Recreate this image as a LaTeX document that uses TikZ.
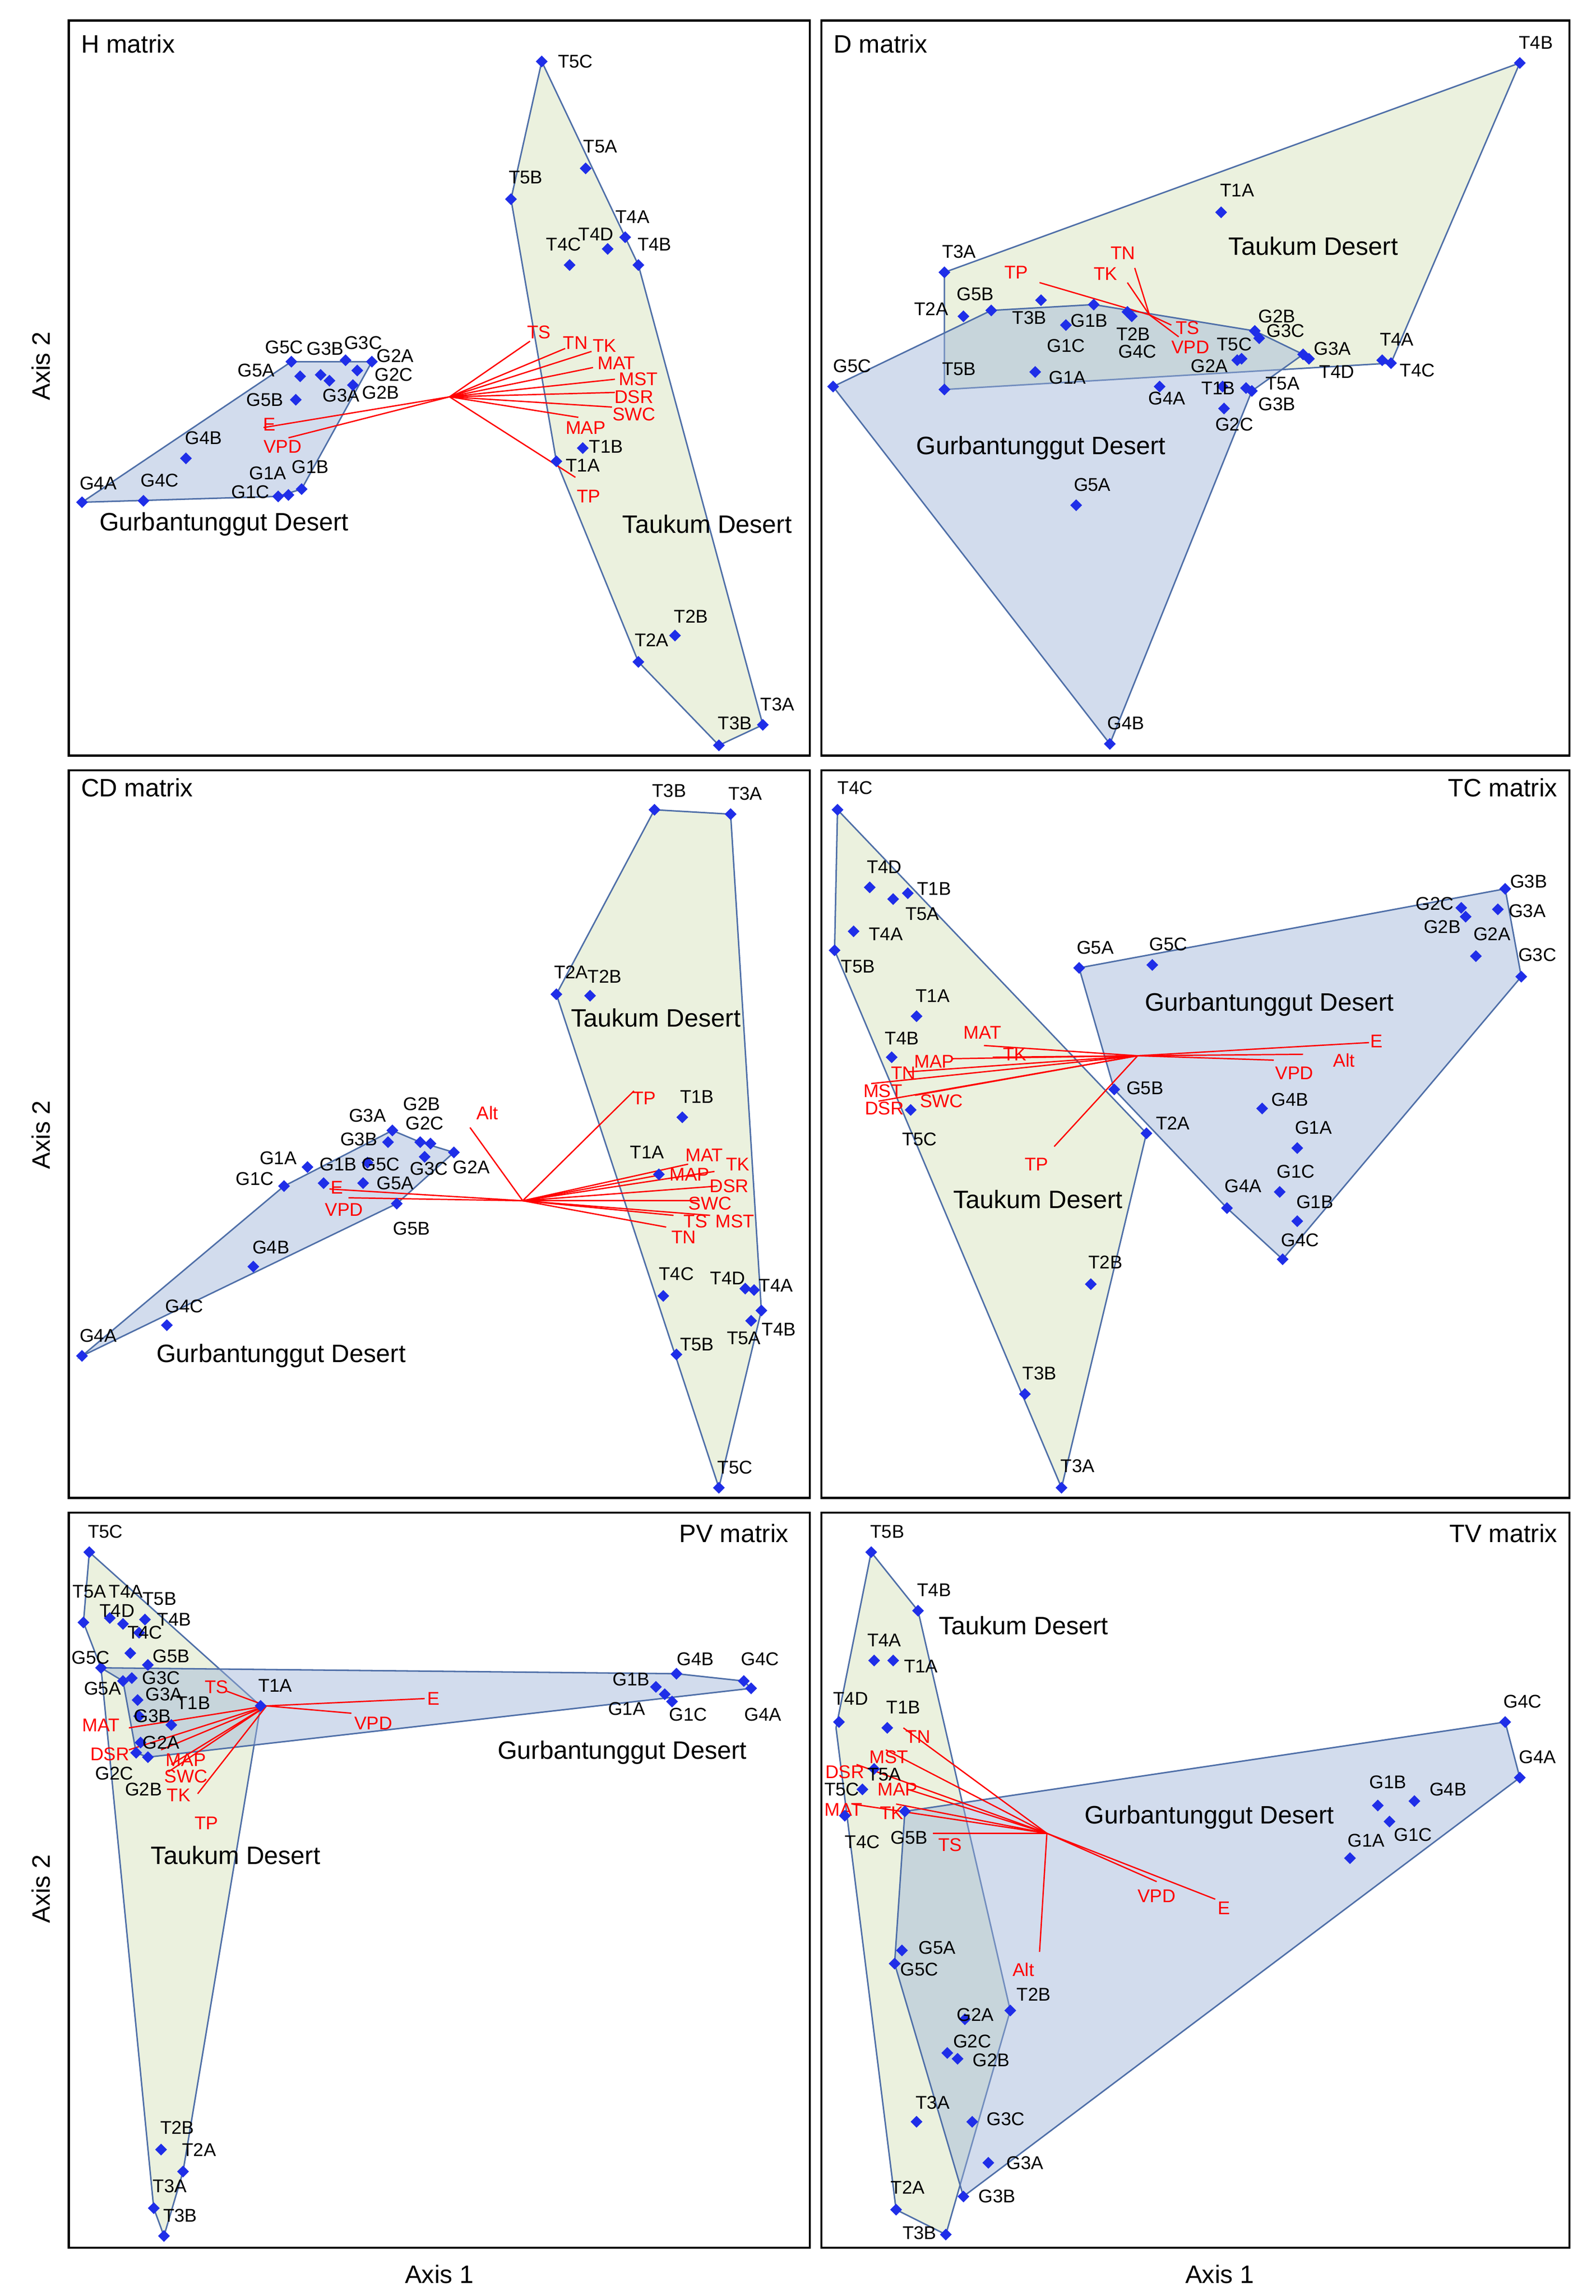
\documentclass[tikz,border=0pt]{standalone}
\usepackage{fontspec}
\setmainfont{Liberation Sans}
\usetikzlibrary{shapes.geometric}
\definecolor{pblue}{HTML}{1F2EE8}
\definecolor{gfill}{HTML}{EBF1DE}
\definecolor{bfill}{HTML}{9DB3D9}
\definecolor{hull}{HTML}{4F6FA8}
\tikzset{
 pt/.style={diamond,fill=pblue,inner sep=0pt,minimum size=4.2pt},
 lb/.style={font=\fontsize{6.3}{7}\selectfont,inner sep=0pt},
 rl/.style={font=\fontsize{6.3}{7}\selectfont,inner sep=0pt,text=red},
 vec/.style={red,line width=0.45pt},
 gh/.style={fill=gfill,draw=hull,line width=0.5pt},
 bh/.style={fill=bfill,fill opacity=0.45,draw=hull,draw opacity=1,line width=0.5pt},
 frame/.style={draw=black,line width=0.7pt},
 big/.style={font=\fontsize{8.6}{10}\selectfont,inner sep=0pt},
}
\def\pp(#1,#2)(#3,#4)#5;{\node[pt] at (#1,#2) {}; \node[lb] at (#3,#4) {#5};}
\def\rv(#1,#2)(#3,#4)(#5,#6)#7;{\draw[vec] (#1,#2) -- (#3,#4); \node[rl] at (#5,#6) {#7};}
\begin{document}
\begin{tikzpicture}[x=0.5pt,y=-0.5pt]
\useasboundingbox (0,0) rectangle (1090,1568);
\fill[white] (0,0) rectangle (1090,1568);
% frames
\draw[frame] (47,14) rectangle (553,516);
\draw[frame] (561,14) rectangle (1072,516);
\draw[frame] (47,526) rectangle (553,1023);
\draw[frame] (561,526) rectangle (1072,1023);
\draw[frame] (47,1033) rectangle (553,1535);
\draw[frame] (561,1033) rectangle (1072,1535);
\node[big,rotate=90] at (28,250) {Axis 2};
\node[big,rotate=90] at (28,775) {Axis 2};
\node[big,rotate=90] at (28,1290) {Axis 2};
\node[big] at (300,1553) {Axis 1};
\node[big] at (833,1553) {Axis 1};

% ================= H matrix
\node[big,anchor=west] at (55,30) {H matrix};
\draw[gh] (370,42) -- (436,181) -- (521,495) -- (491,509) -- (436,452) -- (380,315) -- (349,136) -- cycle;
\draw[bh] (56,343) -- (199,247) -- (254,247) -- (206,334) -- (190,339) -- cycle;
\foreach \x/\y in {362/233,386/238,404/240,405/251,420/259,420/268,418/278,395/285,393/326,180/292,197/299} \draw[vec] (307,271) -- (\x,\y);
\node[rl] at (368,227) {TS}; \node[rl] at (393,234) {TN}; \node[rl] at (413,236) {TK};
\node[rl] at (421,248) {MAT}; \node[rl] at (436,259) {MST}; \node[rl] at (433,271) {DSR};
\node[rl] at (433,283) {SWC}; \node[rl] at (400,292) {MAP}; \node[rl] at (402,339) {TP};
\node[rl] at (184,290) {E}; \node[rl] at (193,305) {VPD};
\pp(370,42)(393,42)T5C; \pp(400,115)(410,100)T5A; \pp(349,136)(359,121)T5B;
\pp(427,162)(432,148)T4A; \pp(415,170)(407,160)T4D; \pp(389,181)(385,167)T4C;
\pp(436,181)(447,167)T4B; \pp(398,306)(414,305)T1B; \pp(380,315)(398,318)T1A;
\pp(461,434)(472,421)T2B; \pp(436,452)(445,437)T2A; \pp(521,495)(531,481)T3A; \pp(491,509)(502,494)T3B;
\pp(56,343)(67,330)G4A; \pp(98,342)(109,328)G4C; \pp(127,313)(139,299)G4B;
\pp(190,339)(171,336)G1C; \pp(197,338)(183,323)G1A; \pp(206,334)(212,319)G1B;
\pp(202,273)(181,273)G5B; \pp(205,257)(175,253)G5A; \pp(199,247)(194,237)G5C;
\pp(219,256)(222,238)G3B; \pp(236,246)(248,234)G3C; \pp(254,247)(270,243)G2A;
\pp(244,253)(269,256)G2C; \pp(225,260)(233,270)G3A; \pp(241,263)(260,268)G2B;
\node[big] at (153,358) {Gurbantunggut Desert};
\node[big] at (483,358) {Taukum Desert};

% ================= D matrix
\node[big,anchor=west] at (569,30) {D matrix};
\draw[gh] (1038,43) -- (950,248) -- (645,266) -- (645,186) -- cycle;
\draw[bh] (569,264) -- (677,212) -- (747,208) -- (857,226) -- (890,242) -- (855,267) -- (758,508) -- cycle;
\rv(785,215)(710,193)(694,186)TP; \rv(785,215)(770,193)(755,187)TK; \rv(785,215)(775,183)(767,173)TN;
\rv(785,215)(800,222)(811,224)TS; \rv(785,215)(805,230)(813,237)VPD;
\pp(1038,43)(1049,29)T4B; \pp(834,145)(845,130)T1A; \pp(645,186)(655,172)T3A;
\pp(658,216)(636,211)T2A; \pp(677,212)(666,201)G5B; \pp(711,205)(703,217)T3B;
\pp(747,208)(744,219)G1B; \pp(728,222)(728,236)G1C; \pp(770,213)(774,228)T2B;
\pp(773,216)(777,240)G4C; \pp(645,266)(655,252)T5B; \pp(707,254)(729,258)G1A;
\pp(792,264)(797,272)G4A; \pp(845,246)(843,235)T5C; \pp(848,245)(826,250)G2A;
\pp(857,226)(872,216)G2B; \pp(860,231)(878,226)G3C; \pp(835,264)(832,265)T1B;
\pp(851,265)(876,262)T5A; \pp(855,267)(872,276)G3B; \pp(836,279)(843,290)G2C;
\pp(890,242)(910,238)G3A; \pp(894,245)(913,254)T4D; \pp(944,246)(954,232)T4A;
\pp(950,248)(968,253)T4C; \pp(569,264)(582,250)G5C; \pp(735,345)(746,331)G5A; \pp(758,508)(769,494)G4B;
\node[big] at (897,168) {Taukum Desert};
\node[big] at (711,306) {Gurbantunggut Desert};

% ================= CD matrix
\node[big,anchor=west] at (55,538) {CD matrix};
\draw[gh] (447,553) -- (499,556) -- (520,895) -- (491,1016) -- (380,679) -- cycle;
\draw[bh] (56,926) -- (194,810) -- (268,772) -- (287,780) -- (310,787) -- (271,822) -- cycle;
\rv(357,820)(321,770)(333,760)Alt; \rv(357,820)(433,745)(440,750)TP;
\rv(357,820)(470,795)(481,789)MAT; \rv(357,820)(453,802)(471,802)MAP;
\rv(357,820)(488,800)(504,795)TK; \rv(357,820)(490,810)(498,810)DSR;
\rv(357,820)(478,820)(485,822)SWC; \rv(357,820)(460,830)(475,834)TS;
\rv(357,820)(485,830)(502,834)MST; \rv(357,820)(455,838)(467,845)TN;
\rv(357,820)(225,812)(230,811)E; \rv(357,820)(238,818)(235,826)VPD;
\pp(447,553)(457,540)T3B; \pp(499,556)(509,542)T3A; \pp(380,679)(390,664)T2A;
\pp(403,680)(413,667)T2B; \pp(466,763)(476,749)T1B; \pp(450,802)(442,787)T1A;
\pp(453,885)(462,870)T4C; \pp(509,880)(497,873)T4D; \pp(515,881)(530,878)T4A;
\pp(520,895)(532,908)T4B; \pp(513,902)(508,914)T5A; \pp(462,925)(476,918)T5B;
\pp(491,1016)(502,1002)T5C;
\pp(56,926)(67,912)G4A; \pp(114,905)(126,892)G4C; \pp(173,865)(185,852)G4B;
\pp(194,810)(174,805)G1C; \pp(210,797)(190,791)G1A; \pp(221,808)(231,795)G1B;
\pp(265,780)(245,778)G3B; \pp(268,772)(251,762)G3A; \pp(287,780)(288,754)G2B;
\pp(294,781)(290,767)G2C; \pp(251,794)(260,795)G5C; \pp(248,808)(270,808)G5A;
\pp(290,790)(293,798)G3C; \pp(310,787)(322,797)G2A; \pp(271,822)(281,839)G5B;
\node[big] at (448,695) {Taukum Desert};
\node[big] at (192,926) {Gurbantunggut Desert};

% ================= TC matrix
\node[big,anchor=east] at (1064,538) {TC matrix};
\draw[gh] (572,553) -- (783,774) -- (725,1016) -- (570,649) -- cycle;
\draw[bh] (737,661) -- (1028,607) -- (1039,667) -- (876,860) -- (838,825) -- (761,744) -- cycle;
\rv(777,721)(935,712)(940,711)E; \rv(777,721)(890,720)(918,724)Alt;
\rv(777,721)(870,724)(884,733)VPD; \rv(777,721)(672,714)(671,705)MAT;
\rv(777,721)(678,722)(693,720)TK; \rv(777,721)(650,723)(638,725)MAP;
\rv(777,721)(620,732)(617,733)TN; \rv(777,721)(595,740)(603,745)MST;
\rv(777,721)(600,752)(604,757)DSR; \rv(777,721)(625,748)(643,752)SWC;
\rv(777,721)(720,783)(708,795)TP;
\pp(572,553)(584,538)T4C; \pp(594,606)(604,592)T4D; \pp(610,614)(638,607)T1B;
\pp(620,610)(630,624)T5A; \pp(583,636)(605,638)T4A; \pp(570,649)(586,660)T5B;
\pp(626,694)(637,680)T1A; \pp(609,722)(616,709)T4B; \pp(622,758)(628,778)T5C;
\pp(761,744)(782,743)G5B; \pp(783,774)(801,767)T2A; \pp(745,877)(755,862)T2B;
\pp(700,952)(710,938)T3B; \pp(725,1016)(736,1001)T3A;
\pp(737,661)(748,647)G5A; \pp(787,659)(798,645)G5C; \pp(1028,607)(1044,602)G3B;
\pp(998,620)(980,617)G2C; \pp(1001,626)(985,633)G2B; \pp(1023,621)(1043,622)G3A;
\pp(1008,653)(1019,638)G2A; \pp(1039,667)(1050,652)G3C; \pp(862,757)(881,751)G4B;
\pp(886,784)(897,770)G1A; \pp(874,814)(885,800)G1C; \pp(886,834)(898,821)G1B;
\pp(838,825)(849,810)G4A; \pp(876,860)(888,847)G4C;
\node[big] at (867,686) {Gurbantunggut Desert};
\node[big] at (709,819) {Taukum Desert};

% ================= PV matrix
\node[big,anchor=east] at (539,1047) {PV matrix};
\draw[gh] (61,1060) -- (178,1165) -- (125,1483) -- (112,1527) -- (105,1508) -- (69,1139) -- (57,1108) -- cycle;
\draw[bh] (69,1139) -- (462,1143) -- (508,1148) -- (513,1153) -- (101,1200) -- (93,1197) -- (84,1148) -- cycle;
\rv(182,1165)(290,1160)(296,1160)E; \rv(182,1165)(240,1170)(255,1177)VPD;
\rv(182,1165)(155,1155)(148,1152)TS; \rv(182,1165)(88,1180)(69,1178)MAT;
\rv(182,1165)(88,1195)(75,1198)DSR; \rv(182,1165)(110,1195)(127,1202)MAP;
\rv(182,1165)(117,1205)(127,1213)SWC; \rv(182,1165)(115,1210)(122,1226)TK;
\rv(182,1165)(135,1225)(141,1245)TP;
\pp(61,1060)(72,1046)T5C; \pp(57,1108)(61,1087)T5A; \pp(75,1105)(86,1087)T4A;
\pp(84,1109)(80,1100)T4D; \pp(99,1106)(109,1092)T5B; \pp(95,1115)(119,1106)T4B;
\pp(89,1129)(99,1115)T4C; \pp(69,1139)(62,1132)G5C; \pp(101,1137)(117,1131)G5B;
\pp(90,1146)(110,1146)G3C; \pp(84,1148)(70,1153)G5A; \pp(94,1161)(112,1157)G3A;
\pp(117,1178)(132,1163)T1B; \pp(95,1172)(104,1172)G3B; \pp(178,1165)(188,1151)T1A;
\pp(96,1190)(110,1190)G2A; \pp(93,1197)(78,1211)G2C; \pp(101,1200)(98,1222)G2B;
\pp(448,1152)(431,1147)G1B; \pp(462,1143)(475,1133)G4B; \pp(508,1148)(519,1133)G4C;
\pp(454,1157)(428,1167)G1A; \pp(459,1162)(470,1171)G1C; \pp(513,1153)(521,1171)G4A;
\pp(110,1468)(121,1453)T2B; \pp(125,1483)(136,1468)T2A; \pp(105,1508)(116,1493)T3A;
\pp(112,1527)(123,1513)T3B;
\node[big] at (161,1267) {Taukum Desert};
\node[big] at (425,1197) {Gurbantunggut Desert};

% ================= TV matrix
\node[big,anchor=east] at (1064,1047) {TV matrix};
\draw[gh] (595,1060) -- (627,1100) -- (690,1373) -- (646,1526) -- (612,1509) -- (571,1180) -- cycle;
\draw[bh] (618,1237) -- (1028,1176) -- (1038,1214) -- (658,1500) -- (611,1341) -- cycle;
\rv(715,1252)(617,1180)(627,1186)TN; \rv(715,1252)(605,1195)(607,1200)MST;
\rv(715,1252)(585,1205)(577,1210)DSR; \rv(715,1252)(620,1222)(613,1222)MAP;
\rv(715,1252)(582,1232)(576,1236)MAT; \rv(715,1252)(612,1232)(609,1238)TK;
\rv(715,1252)(637,1252)(649,1260)TS; \rv(715,1252)(790,1285)(790,1295)VPD;
\rv(715,1252)(830,1297)(836,1303)E; \rv(715,1252)(710,1333)(699,1345)Alt;
\pp(595,1060)(606,1046)T5B; \pp(627,1100)(638,1086)T4B; \pp(597,1134)(604,1120)T4A;
\pp(610,1134)(629,1138)T1A; \pp(573,1176)(581,1160)T4D; \pp(606,1180)(617,1166)T1B;
\pp(597,1208)(604,1212)T5A; \pp(589,1222)(575,1222)T5C; \pp(577,1240)(589,1258)T4C;
\pp(618,1237)(621,1255)G5B; \pp(616,1332)(640,1330)G5A; \pp(611,1341)(628,1345)G5C;
\pp(690,1373)(706,1362)T2B; \pp(659,1379)(666,1376)G2A; \pp(647,1402)(664,1394)G2C;
\pp(654,1406)(677,1407)G2B; \pp(626,1449)(637,1436)T3A; \pp(664,1449)(687,1447)G3C;
\pp(675,1477)(700,1477)G3A; \pp(658,1500)(681,1500)G3B; \pp(612,1509)(620,1494)T2A;
\pp(646,1526)(628,1525)T3B;
\pp(1028,1176)(1040,1162)G4C; \pp(1038,1214)(1050,1200)G4A; \pp(941,1233)(948,1217)G1B;
\pp(966,1230)(989,1222)G4B; \pp(949,1244)(965,1253)G1C; \pp(922,1269)(933,1257)G1A;
\node[big] at (699,1110) {Taukum Desert};
\node[big] at (826,1241) {Gurbantunggut Desert};
\end{tikzpicture}
\end{document}
